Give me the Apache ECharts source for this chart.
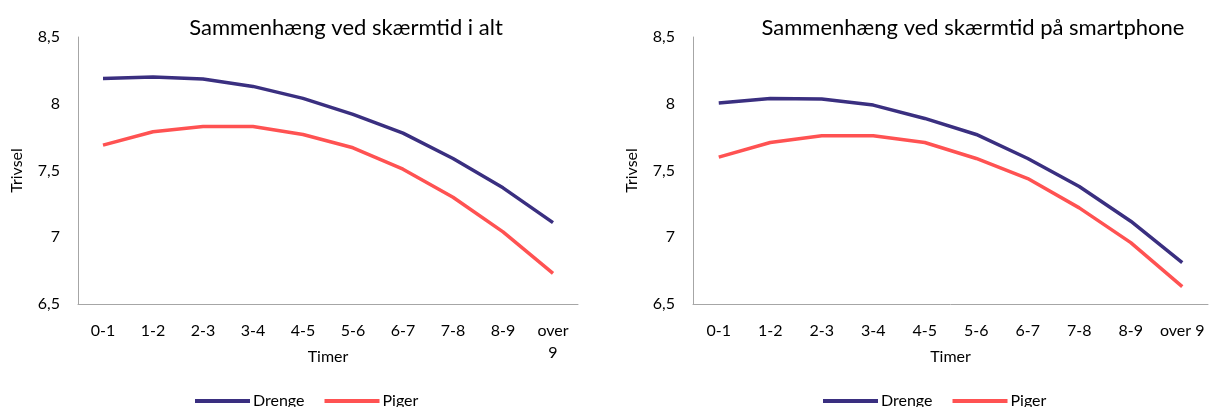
<!DOCTYPE html>
<html>
<head>
<meta charset="utf-8">
<script src="https://cdn.jsdelivr.net/npm/echarts@6/dist/echarts.min.js"></script>
<style>
html,body{margin:0;padding:0;background:#fff;}
#chart{width:1210px;height:407px;}
</style>
</head>
<body>
<div id="chart"></div>
<script>
const categories = ['0-1','1-2','2-3','3-4','4-5','5-6','6-7','7-8','8-9','over 9'];
const titleLeft = 'Sammenhæng ved skærmtid i alt';
const titleRight = 'Sammenhæng ved skærmtid på smartphone';
const drengeAlt = [8.19, 8.20, 8.185, 8.13, 8.04, 7.92, 7.78, 7.59, 7.37, 7.11];
const pigerAlt  = [7.69, 7.79, 7.83, 7.83, 7.77, 7.67, 7.51, 7.30, 7.04, 6.73];
const drengeSmart = [8.005, 8.04, 8.035, 7.99, 7.89, 7.77, 7.59, 7.38, 7.12, 6.81];
const pigerSmart  = [7.60, 7.71, 7.76, 7.76, 7.71, 7.59, 7.44, 7.22, 6.96, 6.63];
const yTicks = [6.5, 7, 7.5, 8, 8.5];

const FONT = 'Lato, "Open Sans", sans-serif';
const BLUE = '#3a2f80';
const RED = '#ff5252';
const AXIS = '#a6a6a6';

const chart = echarts.init(document.getElementById('chart'), null, {renderer:'canvas'});

function yAxis(gi){
  return {
    type:'value', gridIndex:gi, min:yTicks[0], max:yTicks[yTicks.length-1], interval:0.5,
    name:'Trivsel', nameLocation:'middle', nameRotate:90, nameGap:53,
    nameTextStyle:{fontFamily:FONT, fontSize:16, color:'#000'},
    axisLine:{show:true, lineStyle:{color:AXIS, width:1}},
    axisTick:{show:false}, splitLine:{show:false},
    axisLabel:{fontFamily:FONT, fontSize:16, color:'#000', margin:18,
      formatter:v=>String(v).replace('.',',')}
  };
}
function xAxis(gi, wrap){
  return {
    type:'category', gridIndex:gi, data:categories, boundaryGap:true,
    name:'Timer', nameLocation:'middle', nameGap:45, nameMoveOverlap:false,
    nameTextStyle:{fontFamily:FONT, fontSize:16, color:'#000'},
    axisLine:{show:true, lineStyle:{color:AXIS, width:1}},
    axisTick:{show:false},
    axisLabel:{fontFamily:FONT, fontSize:16, color:'#000', margin:16, interval:0, lineHeight:22,
      formatter:v=> wrap ? v.replace(' ','\n') : v}
  };
}
function series(name, data, color, gi){
  return {type:'line', name, data, xAxisIndex:gi, yAxisIndex:gi,
    showSymbol:false, symbol:'none', smooth:false,
    lineStyle:{color, width:3.5}, itemStyle:{color}};
}
function legend(left){
  return {left, top:388, icon:'rect', itemWidth:55, itemHeight:4, itemGap:20,
    data:['Drenge','Piger'],
    textStyle:{fontFamily:FONT, fontSize:16, color:'#000', padding:[0,0,0,-2]}};
}

chart.setOption({
  animation:false,
  title:[
    {text:titleLeft, left:341, textAlign:'center', top:12,
      textStyle:{fontFamily:FONT, fontSize:22, fontWeight:'normal', color:'#000'}},
    {text:titleRight, left:968, textAlign:'center', top:12,
      textStyle:{fontFamily:FONT, fontSize:22, fontWeight:'normal', color:'#000'}}
  ],
  legend:[legend(190), legend(818)],
  grid:[
    {left:78, top:37, width:500, height:267},
    {left:693, top:37, width:515, height:267}
  ],
  xAxis:[xAxis(0,true), xAxis(1,false)],
  yAxis:[yAxis(0), yAxis(1)],
  series:[
    series('Drenge', drengeAlt, BLUE, 0),
    series('Piger', pigerAlt, RED, 0),
    series('Drenge', drengeSmart, BLUE, 1),
    series('Piger', pigerSmart, RED, 1)
  ]
});
</script>
</body>
</html>
